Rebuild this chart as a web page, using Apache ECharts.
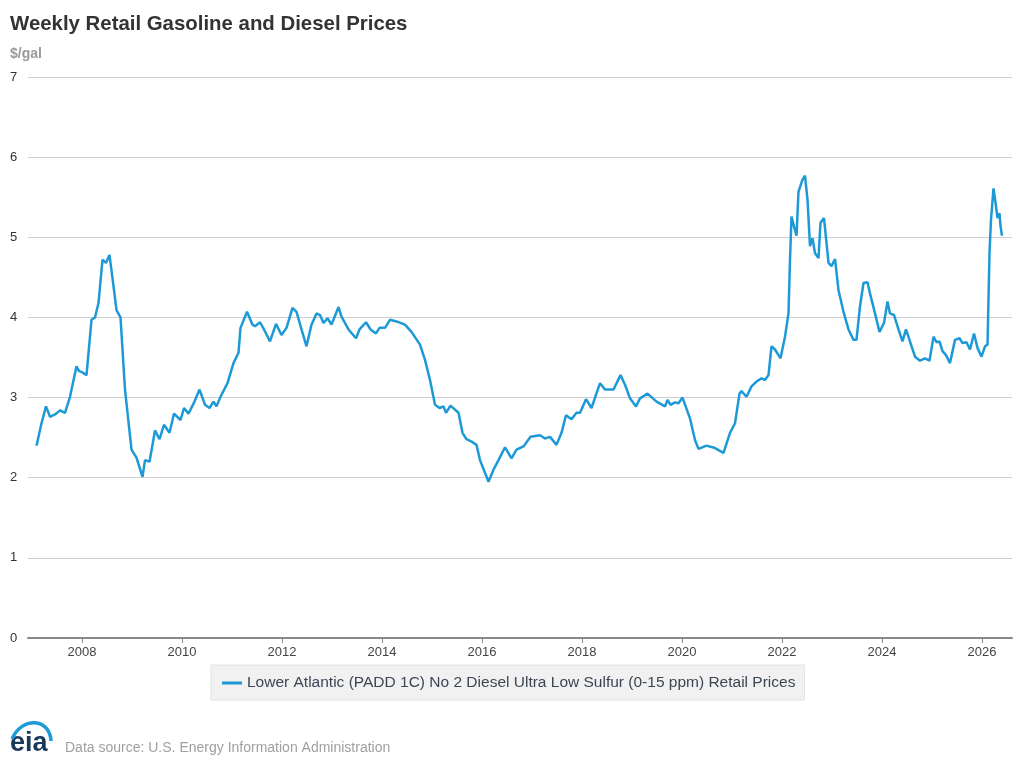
<!DOCTYPE html>
<html>
<head>
<meta charset="utf-8">
<script src="https://cdn.jsdelivr.net/npm/echarts@6/dist/echarts.min.js"></script>
<style>
  html, body { margin: 0; padding: 0; background: #fff; }
  #chart { width: 1029px; height: 761px; }
</style>
</head>
<body>
<div id="chart"></div>
<script>
// weekly observations, x as decimal year
const weeks = [
  2007.09, 2007.19, 2007.28, 2007.36, 2007.46, 2007.56, 2007.66, 2007.76, 2007.89, 2007.94, 2007.99,
  2008.09, 2008.19, 2008.26, 2008.33, 2008.41, 2008.48, 2008.55, 2008.63, 2008.69, 2008.77, 2008.86, 2008.99,
  2009.09, 2009.21, 2009.26, 2009.35, 2009.46, 2009.55, 2009.64, 2009.75, 2009.84, 2009.97,
  2010.04, 2010.13, 2010.25, 2010.35, 2010.46, 2010.55, 2010.63, 2010.69, 2010.77, 2010.91,
  2011.03, 2011.13, 2011.17, 2011.30, 2011.41, 2011.46, 2011.56, 2011.64, 2011.76, 2011.88, 2011.99,
  2012.09, 2012.21, 2012.29, 2012.39, 2012.49, 2012.59, 2012.69, 2012.76, 2012.83, 2012.91, 2012.99,
  2013.13, 2013.19, 2013.33, 2013.48, 2013.55, 2013.68, 2013.77, 2013.88, 2013.95,
  2014.06, 2014.16, 2014.29, 2014.46, 2014.59, 2014.76, 2014.86, 2014.96,
  2015.06, 2015.15, 2015.23, 2015.28, 2015.37, 2015.53, 2015.61, 2015.69, 2015.79, 2015.89, 2015.96,
  2016.13, 2016.23, 2016.33, 2016.46, 2016.59, 2016.69, 2016.83, 2016.97,
  2017.16, 2017.26, 2017.36, 2017.49, 2017.59, 2017.68, 2017.79, 2017.89, 2017.96,
  2018.08, 2018.19, 2018.36, 2018.46, 2018.63, 2018.77, 2018.86, 2018.96,
  2019.08, 2019.16, 2019.31, 2019.49, 2019.66, 2019.71, 2019.77, 2019.86, 2019.93,
  2020.01, 2020.16, 2020.26, 2020.33, 2020.49, 2020.66, 2020.83, 2020.96,
  2021.06, 2021.15, 2021.19, 2021.29, 2021.39, 2021.49, 2021.59, 2021.66, 2021.73, 2021.79, 2021.86, 2021.97,
  2022.06, 2022.13, 2022.16, 2022.19, 2022.25, 2022.29, 2022.33, 2022.37, 2022.41, 2022.46, 2022.51,
  2022.56, 2022.61, 2022.66, 2022.73, 2022.77, 2022.84, 2022.93, 2022.99,
  2023.06, 2023.13, 2023.23, 2023.33, 2023.43, 2023.49, 2023.56, 2023.63, 2023.71, 2023.76, 2023.86, 2023.95,
  2024.04, 2024.11, 2024.16, 2024.24, 2024.33, 2024.41, 2024.48, 2024.57, 2024.66, 2024.76, 2024.86, 2024.95,
  2025.03, 2025.09, 2025.15, 2025.21, 2025.28, 2025.36, 2025.39, 2025.46, 2025.55, 2025.61, 2025.69,
  2025.76, 2025.84, 2025.91, 2025.99,
  2026.06, 2026.11, 2026.15, 2026.18, 2026.23, 2026.28, 2026.31, 2026.35, 2026.37, 2026.40
];
const prices = [
  2.40, 2.68, 2.89, 2.76, 2.79, 2.84, 2.81, 3.01, 3.39, 3.33, 3.32,
  3.28, 3.97, 4.00, 4.18, 4.72, 4.68, 4.78, 4.39, 4.09, 4.00, 3.10, 2.35,
  2.25, 2.01, 2.22, 2.20, 2.59, 2.48, 2.66, 2.56, 2.80, 2.72,
  2.87, 2.80, 2.95, 3.10, 2.91, 2.87, 2.95, 2.89, 3.01, 3.18,
  3.43, 3.56, 3.87, 4.07, 3.91, 3.89, 3.94, 3.85, 3.70, 3.92, 3.78,
  3.87, 4.12, 4.07, 3.85, 3.64, 3.91, 4.05, 4.03, 3.93, 3.99, 3.91,
  4.13, 4.01, 3.85, 3.74, 3.85, 3.94, 3.85, 3.80, 3.87,
  3.87, 3.97, 3.95, 3.91, 3.82, 3.66, 3.47, 3.22,
  2.91, 2.87, 2.89, 2.81, 2.90, 2.81, 2.56, 2.48, 2.45, 2.41, 2.22,
  1.95, 2.10, 2.22, 2.38, 2.24, 2.35, 2.39, 2.51,
  2.53, 2.49, 2.51, 2.41, 2.56, 2.78, 2.73, 2.81, 2.81,
  2.98, 2.87, 3.18, 3.10, 3.10, 3.28, 3.16, 2.99,
  2.89, 2.99, 3.05, 2.95, 2.89, 2.97, 2.91, 2.94, 2.93,
  3.00, 2.74, 2.47, 2.36, 2.40, 2.37, 2.31, 2.56,
  2.68, 3.05, 3.08, 3.01, 3.14, 3.20, 3.24, 3.22, 3.28, 3.64, 3.60, 3.49,
  3.76, 4.05, 4.72, 5.26, 5.11, 5.02, 5.57, 5.59, 5.72, 5.77, 5.47,
  4.89, 4.99, 4.80, 4.74, 5.18, 5.24, 4.68, 4.64,
  4.73, 4.34, 4.07, 3.85, 3.72, 3.72, 4.14, 4.43, 4.44, 4.30, 4.05, 3.82,
  3.93, 4.20, 4.05, 4.03, 3.85, 3.70, 3.85, 3.68, 3.51, 3.46, 3.49, 3.46,
  3.76, 3.69, 3.70, 3.58, 3.53, 3.43, 3.41, 3.72, 3.74, 3.68, 3.69,
  3.60, 3.80, 3.62, 3.51,
  3.64, 3.66, 4.80, 5.22, 5.61, 5.39, 5.24, 5.30, 5.14, 5.02
];
const yearTicks = [2008, 2010, 2012, 2014, 2016, 2018, 2020, 2022, 2024, 2026];
const seriesName = 'Lower Atlantic (PADD 1C) No 2 Diesel Ultra Low Sulfur (0-15 ppm) Retail Prices';

const chart = echarts.init(document.getElementById('chart'));
const font = 'Liberation Sans, Arial, sans-serif';

chart.setOption({
  animation: false,
  textStyle: { fontFamily: font },
  title: {
    text: 'Weekly Retail Gasoline and Diesel Prices',
    left: 5, top: 9,
    textStyle: { fontSize: 20.4, fontWeight: 'bold', color: '#333', fontFamily: font }
  },
  grid: { left: 28, right: 17, top: 77, bottom: 123 },
  legend: {
    left: 211, top: 665,
    padding: [10, 9, 9, 11],
    backgroundColor: '#f1f1f1',
    borderColor: '#e2e2e2', borderWidth: 1,
    icon: 'rect', itemWidth: 20, itemHeight: 3, itemGap: 8,
    textStyle: { fontSize: 15.5, color: '#3c4653', fontFamily: font },
    data: [seriesName]
  },
  xAxis: {
    type: 'value',
    min: 2006.92, max: 2026.6,
    splitLine: { show: false },
    axisLine: { lineStyle: { color: '#8a8a8a', width: 2 } },
    axisTick: { show: true, length: 5, customValues: yearTicks, lineStyle: { color: '#8a8a8a' } },
    axisLabel: { customValues: yearTicks, color: '#444', fontSize: 13, margin: 8, formatter: v => String(v) }
  },
  yAxis: {
    type: 'value',
    min: 0, max: 7, interval: 1,
    axisLine: { show: false },
    axisTick: { show: false },
    splitLine: { lineStyle: { color: '#cfcfcf', width: 1 } },
    axisLabel: { color: '#333', fontSize: 13, align: 'left', margin: 18, padding: [4, 0, 0, 0] }
  },
  graphic: [
    { type: 'text', left: 10, top: 47, style: { text: '$/gal', fill: '#999', font: 'bold 14px ' + font } },
    { type: 'text', left: 65, top: 741, style: { text: 'Data source: U.S. Energy Information Administration', fill: '#a0a0a0', font: '14px ' + font } },
    { type: 'text', left: 10, top: 730, style: { text: 'eia', fill: '#17395a', font: '600 27px ' + font } },
    { type: 'bezierCurve', shape: { x1: 12, y1: 739, cpx1: 22, cpy1: 716, x2: 51, y2: 741, cpx2: 50, cpy2: 718 },
      style: { stroke: '#1e9ad6', lineWidth: 3.5, fill: null } }
  ],
  series: [{
    name: seriesName,
    type: 'line',
    showSymbol: false,
    color: '#1d9ad6',
    lineStyle: { width: 2.5 },
    data: weeks.map((w, i) => [w, prices[i]])
  }]
});
</script>
</body>
</html>
